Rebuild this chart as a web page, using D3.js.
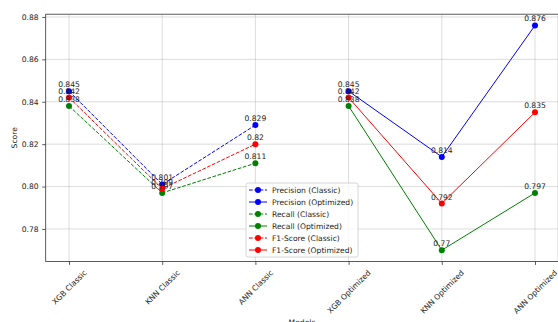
<!DOCTYPE html>
<html>
<head>
<meta charset="utf-8">
<script src="https://cdn.jsdelivr.net/npm/d3@7"></script>
<style>
  html, body { margin: 0; padding: 0; background: #fff; }
  svg { display: block; font-family: "DejaVu Sans", sans-serif; }
</style>
</head>
<body>
<svg id="chart" width="558" height="322"></svg>
<script>
// Model names along the x axis
const models = ["XGB Classic", "KNN Classic", "ANN Classic",
                "XGB Optimized", "KNN Optimized", "ANN Optimized"];
const classicModels = ["XGB Classic", "KNN Classic", "ANN Classic"];
const optimizedModels = ["XGB Optimized", "KNN Optimized", "ANN Optimized"];

// Scores per metric
const precisionClassic = [0.845, 0.801, 0.829];
const precisionOptimized = [0.845, 0.814, 0.876];
const recallClassic = [0.838, 0.797, 0.811];
const recallOptimized = [0.838, 0.77, 0.797];
const f1Classic = [0.842, 0.799, 0.82];
const f1Optimized = [0.842, 0.792, 0.835];

const yTicks = [0.78, 0.80, 0.82, 0.84, 0.86, 0.88];

const series = [
  { name: "Precision (Classic)", cats: classicModels, values: precisionClassic, color: "#0000ff", dashed: true },
  { name: "Precision (Optimized)", cats: optimizedModels, values: precisionOptimized, color: "#0000ff", dashed: false },
  { name: "Recall (Classic)", cats: classicModels, values: recallClassic, color: "#008000", dashed: true },
  { name: "Recall (Optimized)", cats: optimizedModels, values: recallOptimized, color: "#008000", dashed: false },
  { name: "F1-Score (Classic)", cats: classicModels, values: f1Classic, color: "#ff0000", dashed: true },
  { name: "F1-Score (Optimized)", cats: optimizedModels, values: f1Optimized, color: "#ff0000", dashed: false }
];

const svg = d3.select("#chart");
const plot = { left: 45.7, right: 558.3, top: 14.2, bottom: 261.4 };
const fs = 7.6;

const allVals = series.flatMap(s => s.values);
const vmin = d3.min(allVals), vmax = d3.max(allVals);
const pad = (vmax - vmin) * 0.05;

const x = d3.scalePoint().domain(models).range([plot.left, plot.right]).padding(0.25);
const y = d3.scaleLinear().domain([vmin - pad, vmax + pad]).range([plot.bottom, plot.top]);

// grid
const grid = svg.append("g");
grid.selectAll(".gx").data(models).join("line")
  .attr("x1", d => x(d)).attr("x2", d => x(d))
  .attr("y1", plot.top).attr("y2", plot.bottom)
  .attr("stroke", "#b0b0b0").attr("stroke-opacity", 0.55).attr("stroke-width", 0.8);
grid.selectAll(".gy").data(yTicks).join("line")
  .attr("x1", plot.left).attr("x2", plot.right)
  .attr("y1", d => y(d)).attr("y2", d => y(d))
  .attr("stroke", "#b0b0b0").attr("stroke-opacity", 0.55).attr("stroke-width", 0.8);

// axes
const yAxis = d3.axisLeft(y).tickValues(yTicks).tickFormat(d3.format(".2f")).tickSize(3.5).tickPadding(3.5);
const gy = svg.append("g").attr("transform", `translate(${plot.left},0)`).call(yAxis);
gy.select(".domain").remove();
gy.selectAll("text").attr("font-size", fs).attr("fill", "#222").attr("font-family", "DejaVu Sans");
gy.selectAll("line").attr("stroke", "#333").attr("stroke-width", 0.8);

const xAxis = d3.axisBottom(x).tickSize(3.5).tickFormat("");
const gx = svg.append("g").attr("transform", `translate(0,${plot.bottom})`).call(xAxis);
gx.select(".domain").remove();
gx.selectAll("line").attr("stroke", "#333").attr("stroke-width", 0.8);

// rotated category labels, centred under each tick
gx.selectAll(".tick").each(function(d) {
  const t = d3.select(this).append("text")
    .attr("font-size", fs).attr("fill", "#222")
    .attr("font-family", "DejaVu Sans")
    .attr("text-anchor", "middle").attr("dominant-baseline", "central")
    .text(d);
  const w = t.node().getComputedTextLength();
  const h = (w + fs * 1.15) * Math.SQRT1_2;
  t.attr("transform", `translate(0,${7 + h / 2}) rotate(-45)`);
});

// spines
svg.append("rect")
  .attr("x", plot.left).attr("y", plot.top)
  .attr("width", plot.right - plot.left).attr("height", plot.bottom - plot.top)
  .attr("fill", "none").attr("stroke", "#333").attr("stroke-width", 0.8);

// axis titles
svg.append("text").attr("x", (plot.left + plot.right) / 2).attr("y", 324.5)
  .attr("text-anchor", "middle").attr("font-size", fs).attr("fill", "#222").text("Models");
svg.append("text").attr("transform", `translate(17,${(plot.top + plot.bottom) / 2}) rotate(-90)`)
  .attr("text-anchor", "middle").attr("font-size", fs).attr("fill", "#222").text("Score");

// lines and markers
const line = d3.line().x(d => x(d.c)).y(d => y(d.v));
series.forEach(s => {
  const pts = s.cats.map((c, i) => ({ c, v: s.values[i] }));
  const g = svg.append("g");
  g.append("path").datum(pts)
    .attr("d", line).attr("fill", "none")
    .attr("stroke", s.color).attr("stroke-width", 1)
    .attr("stroke-dasharray", s.dashed ? "3.7,1.6" : null);
  g.selectAll("circle").data(pts).join("circle")
    .attr("cx", d => x(d.c)).attr("cy", d => y(d.v)).attr("r", 3)
    .attr("fill", s.color);
  s.pts = pts;
});

// value annotations
series.forEach(s => {
  svg.append("g").selectAll("text").data(s.pts).join("text")
    .attr("x", d => x(d.c)).attr("y", d => y(d.v) - 4)
    .attr("text-anchor", "middle").attr("font-size", fs).attr("fill", "#222")
    .text(d => String(d.v));
});

// legend
const lg = svg.append("g").attr("transform", "translate(246,183)");
lg.append("rect").attr("width", 112).attr("height", 74).attr("rx", 2)
  .attr("fill", "#fff").attr("fill-opacity", 0.8)
  .attr("stroke", "#cccccc").attr("stroke-width", 0.8);
series.forEach((s, i) => {
  const cy = 7 + i * 12;
  lg.append("line").attr("x1", 3).attr("x2", 21).attr("y1", cy).attr("y2", cy)
    .attr("stroke", s.color).attr("stroke-width", 1)
    .attr("stroke-dasharray", s.dashed ? "3.7,1.6" : null);
  lg.append("circle").attr("cx", 12).attr("cy", cy).attr("r", 3).attr("fill", s.color);
  lg.append("text").attr("x", 26).attr("y", cy).attr("dominant-baseline", "central")
    .attr("font-size", fs).attr("fill", "#222").text(s.name);
});
</script>
</body>
</html>
